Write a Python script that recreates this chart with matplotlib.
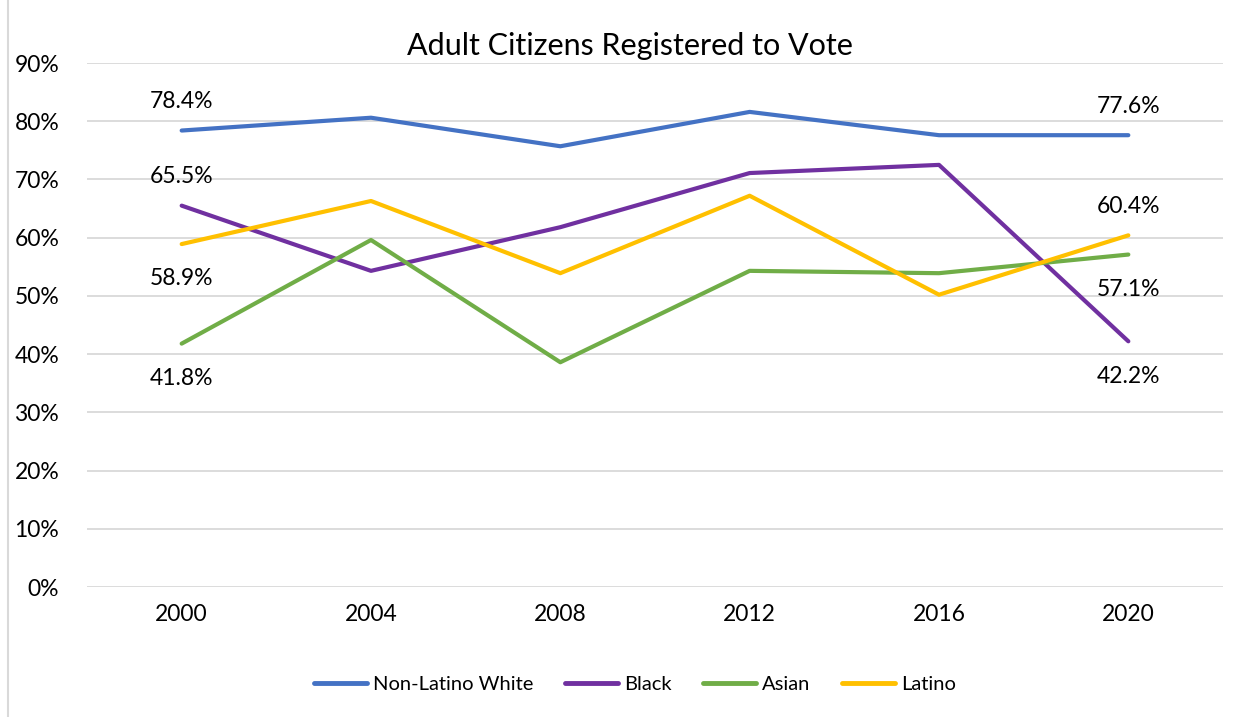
import matplotlib
matplotlib.use("Agg")
import matplotlib.pyplot as plt
from matplotlib.lines import Line2D
from matplotlib.ticker import FuncFormatter

years = ["2000", "2004", "2008", "2012", "2016", "2020"]
white = [78.4, 80.6, 75.7, 81.6, 77.6, 77.6]
black = [65.5, 54.3, 61.8, 71.1, 72.5, 42.2]
asian = [41.8, 59.6, 38.6, 54.3, 53.9, 57.1]
latino = [58.9, 66.3, 53.9, 67.2, 50.2, 60.4]
series_names = ["Non-Latino White", "Black", "Asian", "Latino"]
colors = ["#4472C4", "#7030A0", "#70AD47", "#FFC000"]

plt.rcParams['font.family'] = ['Lato', 'DejaVu Sans']

fig = plt.figure(figsize=(12.5, 7.17), dpi=100)
ax = fig.add_axes([87/1250, 1-587/717, (1223-87)/1250, (587-63)/717])

x = list(range(len(years)))
for vals, c, n in zip([white, black, asian, latino], colors, series_names):
    ax.plot(x, vals, color=c, lw=3, solid_capstyle='round', solid_joinstyle='round', label=n, zorder=3)

ax.set_xlim(-0.5, len(years) - 0.5)
ax.set_ylim(0, 90)
ax.set_yticks(range(0, 91, 10))
ax.yaxis.set_major_formatter(FuncFormatter(lambda v, p: f"{int(v)}%"))
ax.set_xticks(x)
ax.set_xticklabels(years)
ax.grid(axis='y', color='#D9D9D9', lw=1.3, zorder=0)
for s in ax.spines.values():
    s.set_visible(False)
fs = 16.5
ax.tick_params(axis='both', length=0, labelsize=fs, colors='black')
ax.tick_params(axis='y', pad=20)
ax.tick_params(axis='x', pad=12)

# data labels
def lab(i, v, above):
    off = 21 if above else -25
    ax.annotate(f"{v:.1f}%", (i, v), xytext=(0, off), textcoords='offset points',
                ha='center', va='center', fontsize=fs, color='black')

lab(0, white[0], True)
lab(0, black[0], True)
lab(0, latino[0], False)
lab(0, asian[0], False)
lab(5, white[5], True)
lab(5, latino[5], True)
lab(5, asian[5], False)
lab(5, black[5], False)

fig.text(630/1250, 1-46/717, "Adult Citizens Registered to Vote", ha='center', va='center', fontsize=22)

handles = [Line2D([0], [0], color=c, lw=3.5, solid_capstyle='round') for c in colors]
fig.legend(handles, series_names, loc='center', bbox_to_anchor=(635/1250, 1-684/717), ncol=4,
           frameon=False, fontsize=14.5, handlelength=2.6, handletextpad=0.3, columnspacing=1.6)

fig.add_artist(Line2D([8/1250, 8/1250], [0, 1], color='#D9D9D9', lw=1.5, transform=fig.transFigure))

fig.savefig("out.png", dpi=100)
